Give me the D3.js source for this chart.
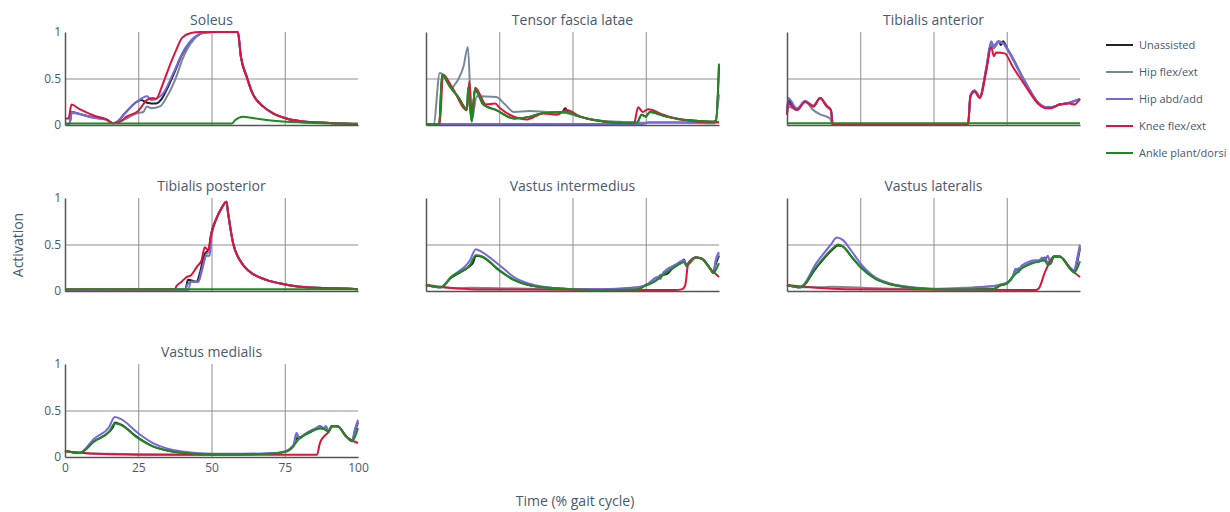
<!DOCTYPE html>
<html>
<head>
<meta charset="utf-8">
<script src="https://cdn.jsdelivr.net/npm/d3@7"></script>
<style>
  html, body { margin: 0; padding: 0; background: #fff; }
  svg { display: block; font-family: "Open Sans", sans-serif; }
</style>
</head>
<body>
<svg id="chart" width="1230" height="512"></svg>
<script>
// Simulated muscle activation over one gait cycle, per assistance condition.
const seriesNames = ["Unassisted", "Hip flex/ext", "Hip abd/add", "Knee flex/ext", "Ankle plant/dorsi"];
const seriesColors = ["#222222", "#778899", "#7468e0", "#dc143c", "#1f8a1f"];
const muscleNames = ["Soleus", "Tensor fascia latae", "Tibialis anterior", "Tibialis posterior",
  "Vastus intermedius", "Vastus lateralis", "Vastus medialis"];
const xTicks = [0, 25, 50, 75, 100];
const yTicks = [0, 0.5, 1];

// Each series: [percent gait cycle, activation]
const soleusTail = [[59,1],[60,0.74],[62,0.52],[64,0.34],[67.6,0.2],[71,0.125],[75.5,0.07],[82,0.035],[91.5,0.02],[100,0.01]];
const soleus = [
  [[0,0.01],[1.5,0.01],[2.3,0.14],[6,0.11],[10,0.08],[14,0.06],[15,0.04],[16.5,0.02],[18,0.04],[20,0.11],[24.5,0.25],[26,0.27],[28,0.24],[31,0.23],[33,0.28],[34.7,0.38],[37,0.54],[40,0.76],[44,0.93],[47,0.99],[50.5,1],...soleusTail],
  [[0,0.01],[1.5,0.01],[2.3,0.13],[10,0.075],[14,0.055],[16.5,0.02],[21,0.07],[24.5,0.125],[26.7,0.14],[28,0.2],[29.5,0.18],[32.4,0.2],[34.7,0.3],[38,0.52],[40,0.7],[44,0.92],[47,0.99],[50.5,1],...soleusTail],
  [[0,0.01],[1.5,0.01],[2.3,0.14],[6,0.11],[10,0.08],[14,0.06],[15,0.04],[16.5,0.02],[18,0.04],[20,0.11],[24.5,0.25],[28,0.31],[29.5,0.27],[31,0.28],[33.5,0.34],[37,0.56],[40,0.77],[44,0.94],[47,0.99],[50.5,1],...soleusTail],
  [[0,0.07],[1.2,0.07],[2.2,0.22],[5,0.17],[10,0.1],[14.5,0.055],[16.4,0.02],[19,0.04],[21,0.09],[25,0.15],[28,0.27],[30,0.29],[31,0.28],[33.5,0.45],[36,0.66],[38,0.81],[40,0.94],[43,0.99],[46,1],...soleusTail],
  [[0,0.015],[57,0.015],[58,0.05],[60.8,0.09],[64,0.075],[68.75,0.055],[75.5,0.035],[85,0.022],[100,0.015]]
];
const tensorFasciaLatae = [
  [[0,0.01],[4.5,0.01],[5.5,0.54],[8,0.42],[11,0.3],[14,0.17],[14.4,0.4],[15.6,0.04],[16.7,0.38],[19.6,0.22],[24,0.16],[30,0.07],[35.6,0.09],[40,0.13],[46.5,0.14],[47.5,0.18],[48.5,0.14],[52.6,0.09],[58,0.05],[64,0.028],[72,0.025],[73.6,0.11],[75,0.09],[76.4,0.14],[82,0.09],[90,0.05],[98,0.035],[99,0.05],[100,0.64]],
  [[0,0.01],[2.6,0.01],[4.7,0.56],[6,0.54],[8.9,0.4],[9.7,0.43],[11,0.49],[12.8,0.63],[14.3,0.84],[15.6,0.05],[17.3,0.31],[24,0.3],[27,0.22],[30,0.14],[35.5,0.15],[41,0.14],[47.4,0.13],[50,0.11],[58,0.05],[66,0.035],[75,0.025],[85,0.025],[98.5,0.02],[100,0.33]],
  [[0,0.01],[74,0.01],[76,0.03],[100,0.03]],
  [[0,0.01],[4.7,0.01],[5.8,0.54],[9,0.4],[14,0.16],[14.8,0.47],[15.7,0.07],[16.8,0.4],[20.5,0.22],[23.6,0.23],[25.3,0.18],[30,0.09],[34.4,0.06],[40,0.125],[44.6,0.11],[48,0.16],[52.6,0.09],[58,0.05],[64,0.025],[71,0.02],[72.4,0.19],[74,0.14],[75.8,0.17],[81,0.11],[86.6,0.06],[98,0.03],[100,0.03]],
  [[0,0.01],[4.5,0.01],[5.5,0.54],[8,0.42],[11,0.3],[14,0.17],[14.4,0.4],[15.6,0.035],[16.7,0.39],[19.6,0.22],[24,0.16],[30,0.07],[35.6,0.09],[40,0.13],[47.4,0.14],[52.6,0.09],[58,0.05],[64,0.028],[72,0.025],[73.6,0.11],[75,0.09],[76.4,0.14],[82,0.09],[90,0.05],[98,0.035],[99,0.05],[100,0.66]]
];
const tibialisAnterior = [
  [[0,0.12],[0.4,0.26],[3.4,0.17],[6.2,0.25],[9,0.2],[11.3,0.29],[13.6,0.2],[15,0.16],[15.6,0.005],[61.8,0.005],[62.6,0.31],[64,0.37],[65.8,0.3],[68,0.6],[69.7,0.88],[70.6,0.83],[72.3,0.9],[73,0.86],[73.7,0.9],[75.4,0.81],[81.6,0.44],[86,0.23],[88.4,0.19],[90,0.19],[93,0.22],[96.4,0.24],[100,0.28]],
  [[0,0.12],[0.4,0.2],[3.4,0.16],[6.2,0.25],[9,0.16],[11.3,0.115],[14.7,0.07],[15.6,0.005],[61.8,0.005],[62.6,0.31],[64,0.36],[65.8,0.3],[68,0.6],[69.7,0.87],[70.6,0.83],[72.3,0.89],[73.7,0.88],[75.4,0.8],[81.6,0.44],[86,0.23],[88.4,0.19],[90,0.19],[93,0.22],[96.4,0.24],[100,0.28]],
  [[0,0.15],[0.4,0.29],[3.4,0.18],[6.2,0.26],[9,0.21],[11.3,0.29],[13.6,0.21],[15,0.16],[15.6,0.005],[61.8,0.005],[62.6,0.32],[64,0.37],[65.8,0.3],[68,0.62],[69.7,0.9],[70.6,0.85],[72,0.9],[73.7,0.88],[75.4,0.81],[81.6,0.45],[86,0.23],[88.4,0.19],[90,0.19],[93,0.22],[96.4,0.24],[100,0.28]],
  [[0,0.11],[0.4,0.23],[3.4,0.16],[6.2,0.25],[9,0.2],[11.3,0.29],[13.6,0.2],[15,0.16],[15.6,0.005],[61.8,0.005],[62.6,0.31],[64,0.36],[65.8,0.29],[68,0.58],[69.7,0.84],[70.6,0.74],[71.4,0.78],[74.3,0.77],[77,0.63],[81.6,0.41],[86,0.22],[88.4,0.18],[90,0.18],[93,0.22],[96.4,0.23],[98,0.22],[100,0.28]],
  [[0,0.02],[100,0.02]]
];
const tibPostTail = [[51.7,0.78],[53.4,0.89],[55.1,0.96],[55.7,0.83],[57.4,0.51],[59.7,0.33],[63,0.21],[68.75,0.12],[74.4,0.075],[80,0.046],[91.5,0.03],[100,0.02]];
const tibialisPosterior = [
  [[0,0.01],[41,0.01],[42,0.12],[45,0.1],[46,0.19],[47.7,0.4],[48.3,0.42],[49.2,0.46],[49.7,0.58],...tibPostTail],
  [[0,0.0],[42,0.005],[43,0.1],[45.5,0.1],[46.6,0.2],[48.3,0.4],[49.4,0.42],[50,0.6],...tibPostTail],
  [[0,0.01],[41,0.02],[42,0.08],[43.2,0.1],[45.5,0.1],[46.6,0.22],[48.3,0.38],[49.4,0.38],[50,0.6],...tibPostTail],
  [[0,0.02],[37.5,0.02],[38,0.05],[39.8,0.1],[41.5,0.15],[43,0.17],[45,0.26],[46.6,0.33],[47.7,0.47],[48.9,0.44],[49.7,0.58],...tibPostTail],
  [[0,0.02],[100,0.02]]
];
const vastusIntermedius = [
  [[0,0.065],[5,0.04],[8.5,0.14],[15,0.27],[16,0.3],[17,0.38],[19.3,0.365],[25,0.22],[30,0.12],[35,0.065],[40,0.04],[50,0.02],[60,0.012],[72,0.02],[75,0.065],[79,0.13],[80,0.17],[82,0.18],[85,0.27],[87,0.3],[88,0.34],[89,0.27],[90,0.31],[92,0.36],[94,0.35],[97,0.24],[98,0.2],[99,0.3],[100,0.38]],
  [[0,0.065],[5,0.04],[12,0.03],[15,0.035],[25,0.03],[50,0.02],[60,0.02],[70,0.03],[75,0.06],[80,0.16],[85,0.28],[88,0.32],[89,0.26],[90,0.31],[92,0.36],[94,0.35],[97,0.24],[98,0.2],[99,0.33],[100,0.4]],
  [[0,0.065],[5,0.04],[9,0.16],[15,0.33],[17,0.45],[19,0.42],[25,0.28],[30,0.15],[35,0.08],[40,0.045],[50,0.02],[60,0.02],[70,0.035],[75,0.06],[79,0.15],[80,0.13],[81,0.2],[85,0.28],[88,0.33],[89,0.27],[90,0.32],[92,0.36],[94,0.35],[97,0.24],[98,0.2],[99,0.35],[100,0.42]],
  [[0,0.065],[5,0.045],[15,0.02],[30,0.015],[85,0.01],[87.5,0.02],[88.5,0.065],[89.5,0.3],[90.5,0.33],[92,0.36],[94,0.35],[97,0.24],[100,0.15]],
  [[0,0.065],[5,0.04],[8.5,0.15],[15,0.28],[17,0.385],[19.3,0.37],[25,0.225],[30,0.12],[35,0.065],[40,0.04],[50,0.02],[60,0.01],[72,0.015],[75,0.06],[78,0.1],[80,0.15],[85,0.26],[88,0.31],[89,0.28],[90,0.3],[92,0.36],[94,0.35],[97,0.24],[98,0.19],[99,0.23],[100,0.3]]
];
const vastusLateralis = [
  [[0,0.065],[4.5,0.04],[10,0.25],[15,0.43],[17.5,0.49],[19,0.48],[22,0.37],[25,0.26],[30,0.135],[35,0.075],[40,0.045],[50,0.02],[60,0.018],[70,0.02],[73,0.06],[75,0.08],[77,0.15],[78,0.22],[80,0.25],[85,0.32],[87,0.33],[88,0.36],[89,0.29],[90,0.3],[91,0.37],[93,0.37],[97,0.23],[98,0.2],[99,0.3],[100,0.46]],
  [[0,0.065],[4.5,0.04],[12,0.04],[15,0.045],[30,0.03],[50,0.02],[60,0.035],[70,0.05],[73,0.07],[75,0.09],[77,0.15],[78,0.23],[80,0.25],[85,0.32],[88,0.35],[89,0.3],[91,0.37],[93,0.37],[97,0.23],[98,0.21],[99,0.33],[100,0.48]],
  [[0,0.065],[4.5,0.04],[10,0.3],[15,0.5],[17,0.575],[19,0.55],[22,0.43],[25,0.3],[30,0.15],[35,0.085],[40,0.05],[50,0.025],[60,0.02],[65,0.04],[70,0.05],[73,0.07],[75,0.09],[77,0.15],[78,0.24],[79,0.2],[80,0.27],[85,0.33],[86,0.31],[87,0.36],[88,0.32],[89,0.38],[90,0.29],[91,0.37],[93,0.37],[97,0.24],[98,0.22],[99,0.35],[100,0.5]],
  [[0,0.065],[10,0.035],[20,0.02],[85,0.01],[86,0.03],[88,0.2],[90,0.33],[91.5,0.37],[93,0.37],[97,0.23],[100,0.15]],
  [[0,0.065],[4.5,0.04],[10,0.26],[15,0.44],[17.5,0.5],[19,0.48],[22,0.37],[25,0.26],[30,0.135],[35,0.075],[40,0.045],[50,0.02],[60,0.015],[70,0.015],[73,0.065],[75,0.08],[77,0.15],[80,0.24],[85,0.31],[88,0.33],[89,0.28],[90,0.3],[91,0.37],[93,0.37],[97,0.225],[98,0.2],[99,0.24],[100,0.32]]
];
const vastusMedialis = [
  [[0,0.065],[5,0.045],[10,0.17],[15,0.27],[16.5,0.33],[17,0.37],[19,0.35],[25,0.205],[30,0.115],[35,0.07],[40,0.045],[50,0.03],[60,0.03],[70,0.035],[75,0.055],[78,0.12],[79,0.2],[80,0.21],[82,0.24],[85,0.29],[87,0.33],[88,0.31],[90,0.28],[91,0.33],[93,0.33],[96,0.22],[98,0.17],[99,0.28],[100,0.37]],
  [[0,0.065],[5,0.045],[12,0.035],[15,0.035],[25,0.03],[50,0.025],[65,0.03],[75,0.055],[78,0.12],[79,0.24],[80,0.2],[82,0.25],[85,0.3],[87,0.32],[88,0.3],[89,0.33],[90,0.28],[91,0.33],[93,0.33],[96,0.22],[98,0.18],[99,0.3],[100,0.38]],
  [[0,0.065],[5,0.045],[10,0.2],[15,0.32],[17,0.43],[19,0.41],[25,0.256],[30,0.15],[35,0.09],[40,0.06],[50,0.035],[60,0.035],[70,0.04],[75,0.06],[78,0.13],[79,0.26],[80,0.2],[82,0.25],[85,0.3],[87,0.33],[88,0.3],[89,0.33],[90,0.28],[91,0.33],[93,0.33],[96,0.22],[98,0.18],[99,0.3],[100,0.4]],
  [[0,0.065],[5,0.045],[15,0.03],[25,0.025],[86,0.025],[87,0.15],[89,0.24],[90,0.27],[91,0.33],[93,0.33],[96,0.22],[100,0.15]],
  [[0,0.065],[5,0.045],[10,0.17],[15,0.27],[17,0.36],[19,0.345],[25,0.2],[30,0.115],[35,0.07],[40,0.045],[50,0.03],[60,0.03],[70,0.035],[75,0.055],[78,0.12],[80,0.2],[82,0.24],[85,0.29],[88,0.31],[90,0.27],[91,0.33],[93,0.33],[96,0.22],[98,0.17],[99,0.22],[100,0.31]]
];
const muscleData = [soleus, tensorFasciaLatae, tibialisAnterior, tibialisPosterior,
  vastusIntermedius, vastusLateralis, vastusMedialis];

// Layout
const textColor = "#4a5870";
const colX = [65, 426, 787];
const rowY = [32, 198, 364];
const pw = 293, ph = 93;

const svg = d3.select("#chart");
const x = d3.scaleLinear().domain([0, 100]).range([0, pw]);
const y = d3.scaleLinear().domain([0, 1]).range([ph, 0]);
const line = d3.line().x(d => x(d[0])).y(d => y(d[1])).curve(d3.curveMonotoneX);

muscleNames.forEach((name, i) => {
  const col = i % 3, row = Math.floor(i / 3);
  const g = svg.append("g").attr("transform", `translate(${colX[col]},${rowY[row]})`);

  // vertical grid
  g.append("g").attr("transform", `translate(0,${ph})`)
    .call(d3.axisBottom(x).tickValues([25, 50, 75]).tickSize(-ph).tickFormat(""))
    .call(a => a.select(".domain").remove())
    .call(a => a.selectAll("line").attr("stroke", "#8f8f8f").attr("stroke-width", 1));
  // horizontal grid at 0.5
  g.append("g")
    .call(d3.axisLeft(y).tickValues([0.5]).tickSize(-pw).tickFormat(""))
    .call(a => a.select(".domain").remove())
    .call(a => a.selectAll("line").attr("stroke", "#8f8f8f").attr("stroke-width", 1));

  // series
  muscleData[i].forEach((pts, s) => {
    g.append("path").datum(pts)
      .attr("fill", "none")
      .attr("stroke", seriesColors[s])
      .attr("stroke-width", 2)
      .attr("stroke-linejoin", "round")
      .attr("d", line);
  });

  // axis lines
  const yAxis = d3.axisLeft(y).tickValues(yTicks).tickSize(0).tickPadding(4)
    .tickFormat(col === 0 ? d3.format("~g") : "");
  g.append("g").call(yAxis)
    .call(a => a.select(".domain").attr("stroke", "#555").attr("stroke-width", 1.5))
    .call(a => a.selectAll("text").attr("fill", textColor).attr("font-size", 12)
      .attr("font-family", "Open Sans, sans-serif"));
  const showX = (i === 6);
  const xAxis = d3.axisBottom(x).tickValues(xTicks).tickSize(0).tickPadding(6)
    .tickFormat(showX ? d3.format("d") : "");
  g.append("g").attr("transform", `translate(0,${ph})`).call(xAxis)
    .call(a => a.select(".domain").attr("stroke", "#555").attr("stroke-width", 1.5))
    .call(a => a.selectAll("text").attr("fill", textColor).attr("font-size", 12)
      .attr("font-family", "Open Sans, sans-serif"));

  // subplot title
  g.append("text").attr("x", pw / 2).attr("y", -7)
    .attr("text-anchor", "middle").attr("fill", textColor)
    .attr("font-size", 14).text(name);
});

// axis titles
svg.append("text").attr("transform", "translate(23,245) rotate(-90)")
  .attr("text-anchor", "middle").attr("fill", textColor).attr("font-size", 14)
  .text("Activation");
svg.append("text").attr("x", 575).attr("y", 506)
  .attr("text-anchor", "middle").attr("fill", textColor).attr("font-size", 14)
  .text("Time (% gait cycle)");

// legend
const legend = svg.append("g").attr("transform", "translate(1106,45)");
seriesNames.forEach((n, s) => {
  const it = legend.append("g").attr("transform", `translate(0,${s * 27})`);
  it.append("line").attr("x1", 0).attr("x2", 27).attr("y1", 0).attr("y2", 0)
    .attr("stroke", seriesColors[s]).attr("stroke-width", 2);
  it.append("text").attr("x", 33).attr("y", 4).attr("fill", textColor)
    .attr("font-size", 11).text(n);
});
</script>
</body>
</html>
